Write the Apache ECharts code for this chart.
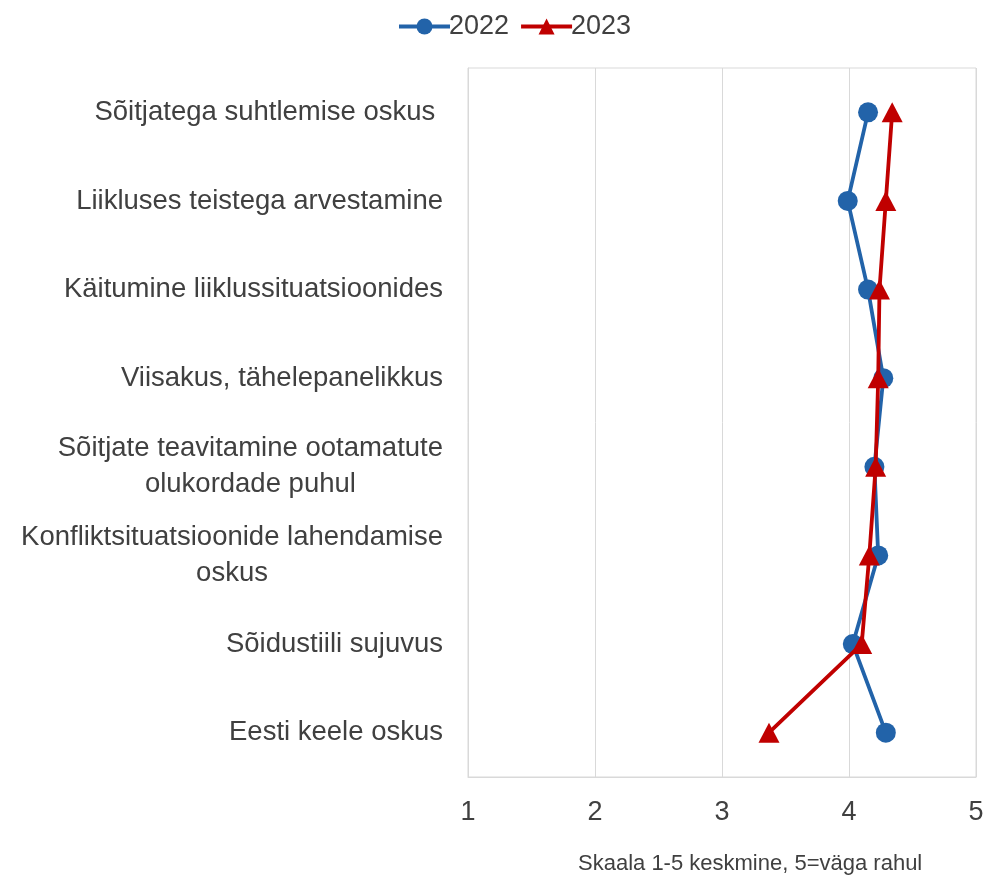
<!DOCTYPE html>
<html>
<head>
<meta charset="utf-8">
<script src="https://cdn.jsdelivr.net/npm/echarts@6/dist/echarts.min.js"></script>
<style>
  html, body { margin: 0; padding: 0; background: #ffffff; }
  #chart { width: 988px; height: 878px; }
</style>
</head>
<body>
<div id="chart"></div>
<script>
// Survey items, top to bottom
const categories = [
  'Sõitjatega suhtlemise oskus ',
  'Liikluses teistega arvestamine',
  'Käitumine liiklussituatsioonides',
  'Viisakus, tähelepanelikkus',
  'Sõitjate teavitamine ootamatute\nolukordade puhul',
  'Konfliktsituatsioonide lahendamise\noskus',
  'Sõidustiili sujuvus',
  'Eesti keele oskus'
];

// Mean scores on the 1–5 scale
const values2022 = [4.15, 3.99, 4.15, 4.27, 4.20, 4.23, 4.03, 4.29];
const values2023 = [4.34, 4.29, 4.24, 4.23, 4.21, 4.16, 4.10, 3.37];

const seriesNames = ['2022', '2023'];
const xTicks = [1, 2, 3, 4, 5];
const axisTitle = 'Skaala 1-5 keskmine, 5=väga rahul';

const textColor = '#404040';
const gridColor = '#d9d9d9';
const fontFamily = '"Liberation Sans", Arial, sans-serif';

const chart = echarts.init(document.getElementById('chart'), null, { renderer: 'canvas' });

chart.setOption({
  backgroundColor: '#ffffff',
  animation: false,
  title: {
    text: axisTitle,
    left: 573,
    top: 848,
    textStyle: { color: textColor, fontSize: 22, fontWeight: 'normal', fontFamily: fontFamily }
  },
  legend: {
    data: seriesNames,
    left: 392,
    top: 8,
    itemWidth: 51,
    itemHeight: 20,
    itemGap: 10,
    lineStyle: { width: 4 },
    textStyle: { color: textColor, fontSize: 27, fontFamily: fontFamily, padding: [0, 0, 0, -6] }
  },
  grid: {
    left: 468,
    right: 12,
    top: 68,
    bottom: 101,
    show: true,
    borderColor: gridColor,
    borderWidth: 1,
    containLabel: false
  },
  xAxis: {
    type: 'value',
    min: xTicks[0],
    max: xTicks[xTicks.length - 1],
    interval: 1,
    axisLine: { show: true, lineStyle: { color: gridColor } },
    axisTick: { show: false },
    splitLine: { show: true, lineStyle: { color: gridColor, width: 1 } },
    axisLabel: {
      color: textColor,
      fontSize: 27,
      fontFamily: fontFamily,
      margin: 22
    }
  },
  yAxis: {
    type: 'category',
    data: categories,
    inverse: true,
    boundaryGap: true,
    axisLine: { show: true, lineStyle: { color: gridColor } },
    axisTick: { show: false },
    splitLine: { show: false },
    axisLabel: {
      margin: 25,
      color: textColor,
      fontSize: 27.5,
      fontFamily: fontFamily,
      lineHeight: 36,
      formatter: function (v) {
        return v.split('\n').map(function (s) { return '{c|' + s + '}'; }).join('\n');
      },
      rich: {
        c: { align: 'center', color: textColor, fontSize: 27.5, fontFamily: fontFamily, lineHeight: 36 }
      }
    }
  },
  series: [
    {
      name: seriesNames[0],
      type: 'line',
      data: values2022,
      symbol: 'circle',
      symbolSize: 20,
      lineStyle: { color: '#2263A9', width: 3.8 },
      itemStyle: { color: '#2263A9' },
      z: 2
    },
    {
      name: seriesNames[1],
      type: 'line',
      data: values2023,
      symbol: 'triangle',
      symbolSize: [21, 20],
      lineStyle: { color: '#C00000', width: 3.8 },
      itemStyle: { color: '#C00000' },
      z: 3
    }
  ]
});
</script>
</body>
</html>
